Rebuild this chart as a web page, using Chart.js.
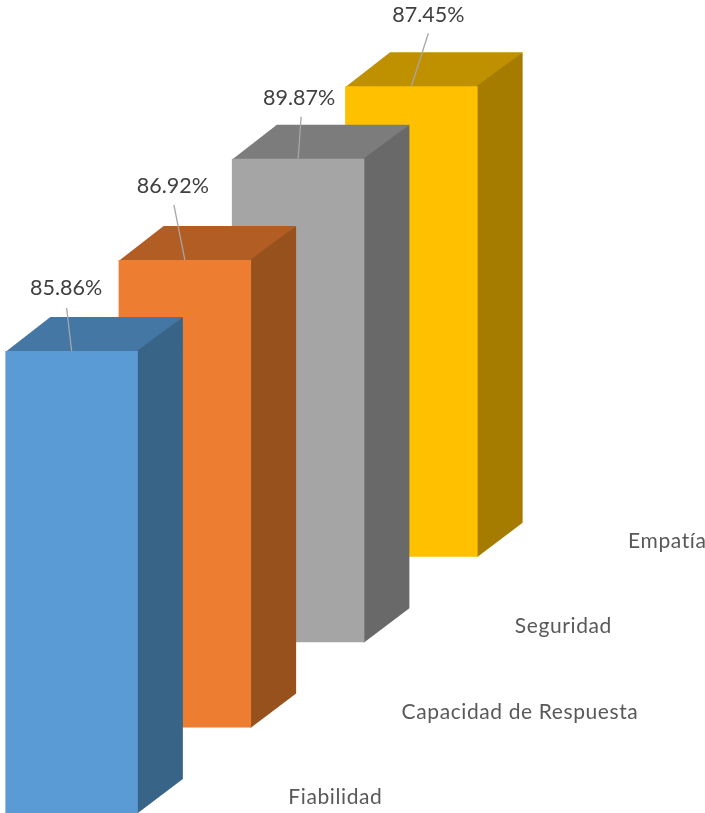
<!DOCTYPE html>
<html>
<head>
<meta charset="utf-8">
<title>Dimensiones</title>
<script src="https://cdn.jsdelivr.net/npm/chart.js@4"></script>
<style>
  html, body { margin: 0; padding: 0; background: #fff; overflow: hidden; }
  #wrap { width: 705px; height: 813px; }
</style>
</head>
<body>
<div id="wrap"><canvas id="chart" width="705" height="813"></canvas></div>
<script>
const categories = ["Fiabilidad", "Capacidad de Respuesta", "Seguridad", "Empatía"];
const values = [85.86, 86.92, 89.87, 87.45];

const frontColors = ["#5B9BD5", "#ED7D31", "#A5A5A5", "#FFC000"];
const topColors = ["#4577A5", "#B25D24", "#7C7C7C", "#BF9000"];
const sideColors = ["#386488", "#97511D", "#696969", "#A67C00"];

// depth of the fake 3D box, in pixels
const depthX = 45;
const depthY = 34;

// every bar sits one step further back, so each one gets its own hidden y axis
const yRange = 151.1;
const yStep = 15.87;

// hand placed value labels: label centre and leader start, relative to bar top centre
const valueLabelOffsets = [
  { x: -5.5, y: -63, lineX: -5, lineY: -43 },
  { x: -12, y: -74, lineX: -11, lineY: -55 },
  { x: 1, y: -61, lineX: 3, lineY: -42 },
  { x: 17, y: -71, lineX: 17, lineY: -53 }
];

const yScales = { x: { display: false, offset: true, grid: { display: false } } };
categories.forEach((c, i) => {
  yScales["y" + i] = {
    display: false,
    min: -yStep * i,
    max: yRange - yStep * i,
    grid: { display: false }
  };
});

const box3d = {
  id: "box3d",
  // faces go first so the front of the bar covers their inner edges
  beforeDatasetDraw(chart, args) {
    const i = args.index;
    const bar = args.meta.data[i];
    const ctx = chart.ctx;
    const left = bar.x - bar.width / 2;
    const right = bar.x + bar.width / 2;

    ctx.save();
    // top face
    ctx.fillStyle = topColors[i];
    ctx.beginPath();
    ctx.moveTo(left, bar.y + 1);
    ctx.lineTo(left + depthX, bar.y - depthY);
    ctx.lineTo(right + depthX, bar.y - depthY);
    ctx.lineTo(right + 1, bar.y + 1);
    ctx.closePath();
    ctx.fill();

    // side face
    ctx.fillStyle = sideColors[i];
    ctx.beginPath();
    ctx.moveTo(right - 1, bar.y);
    ctx.lineTo(right + depthX, bar.y - depthY);
    ctx.lineTo(right + depthX, bar.base - depthY);
    ctx.lineTo(right, bar.base);
    ctx.lineTo(right - 1, bar.base);
    ctx.closePath();
    ctx.fill();
    ctx.restore();
  },
  afterDatasetsDraw(chart) {
    const ctx = chart.ctx;
    ctx.save();
    ctx.textBaseline = "middle";

    categories.forEach((c, i) => {
      const bar = chart.getDatasetMeta(i).data[i];
      const off = valueLabelOffsets[i];

      // leader line
      ctx.strokeStyle = "#A6A6A6";
      ctx.lineWidth = 1.3;
      ctx.beginPath();
      ctx.moveTo(bar.x + off.lineX, bar.y + off.lineY);
      ctx.lineTo(bar.x, bar.y);
      ctx.stroke();

      // value label
      ctx.font = '21.5px Lato, "Open Sans", sans-serif';
      ctx.fillStyle = "#404040";
      ctx.textAlign = "center";
      ctx.letterSpacing = "0px";
      ctx.fillText(values[i].toFixed(2) + "%", bar.x + off.x, bar.y + off.y);

      // category label, down and to the right of the box
      ctx.font = '21px Lato, "Open Sans", sans-serif';
      ctx.fillStyle = "#595959";
      ctx.textAlign = "left";
      ctx.letterSpacing = "0.6px";
      ctx.fillText(c, bar.x - bar.width / 2 + 283, bar.base - 15.5);
    });
    ctx.restore();
  }
};

new Chart(document.getElementById("chart"), {
  type: "bar",
  data: {
    labels: categories,
    datasets: categories.map((c, i) => ({
      label: c,
      data: values.map((v, j) => (j === i ? v : null)),
      yAxisID: "y" + i,
      backgroundColor: frontColors[i],
      order: i,
      grouped: false,
      clip: false,
      barPercentage: 1.17,
      categoryPercentage: 1
    }))
  },
  options: {
    responsive: false,
    animation: false,
    layout: { padding: { left: 15, right: 237, top: 0, bottom: 0 } },
    plugins: { legend: { display: false }, tooltip: { enabled: false } },
    scales: yScales
  },
  plugins: [box3d]
});
</script>
</body>
</html>
